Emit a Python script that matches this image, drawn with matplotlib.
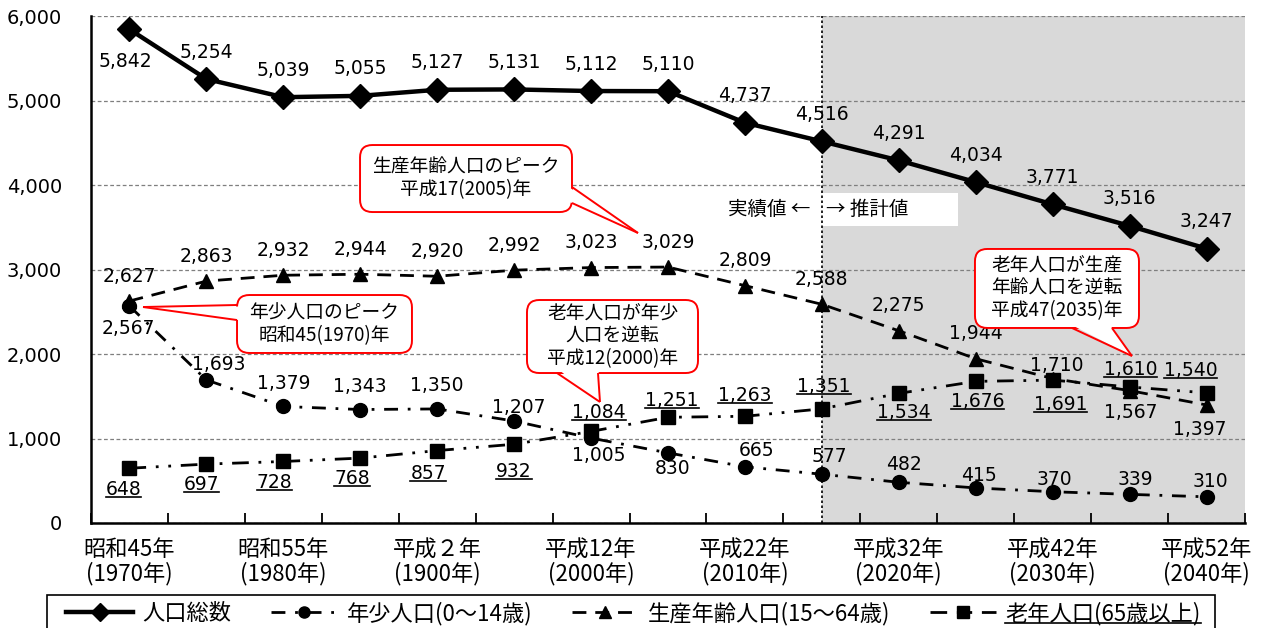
import matplotlib
matplotlib.use("Agg")
import matplotlib.pyplot as plt
from matplotlib.lines import Line2D
from matplotlib.patches import FancyBboxPatch, Polygon, Rectangle
from matplotlib.transforms import IdentityTransform

JP = ['Noto Sans CJK JP', 'DejaVu Sans']
NUM = ['DejaVu Sans']

# population by age group, 1970-2040 (actual up to 2015 col, projection after)
years = [1970, 1975, 1980, 1985, 1990, 1995, 2000, 2005, 2010, 2015, 2020, 2025, 2030, 2035, 2040]
total = [5842, 5254, 5039, 5055, 5127, 5131, 5112, 5110, 4737, 4516, 4291, 4034, 3771, 3516, 3247]
young = [2567, 1693, 1379, 1343, 1350, 1207, 1005, 830, 665, 577, 482, 415, 370, 339, 310]
working = [2627, 2863, 2932, 2944, 2920, 2992, 3023, 3029, 2809, 2588, 2275, 1944, 1710, 1567, 1397]
elderly = [648, 697, 728, 768, 857, 932, 1084, 1251, 1263, 1351, 1534, 1676, 1691, 1610, 1540]

tick_labels = ['昭和45年\n(1970年)', '昭和55年\n(1980年)', '平成２年\n(1900年)', '平成12年\n(2000年)',
               '平成22年\n(2010年)', '平成32年\n(2020年)', '平成42年\n(2030年)', '平成52年\n(2040年)']
legend_labels = ['人口総数', '年少人口(0～14歳)', '生産年齢人口(15～64歳)', '老年人口(65歳以上)']

# label offsets in pixels (dx, dy)
total_off = [(-4, -32)] + [(0, 27)] * 14
young_off = [(-1, -22), (12, 15), (0, 23), (0, 23), (0, 23), (5, 14), (8, -17), (5, -16),
             (12, 16), (8, 18), (5, 18), (3, 12), (2, 12), (6, 15), (4, 15)]
working_off = [(0, 25)] * 12 + [(4, 13), (1, -22), (-7, -25)]
elderly_off = [(-6, -21), (-5, -20), (-9, -21), (-8, -20), (-9, -23), (0, -27), (8, 19), (4, 17),
               (0, 21), (2, 22), (5, -19), (2, -20), (8, -24), (1, 17), (-16, 22)]

# callouts: text, box (x0, y0, x1, y1), tail base points, tail tip  (data units)
callouts = [
    ('生産年齢人口のピーク\n平成17(2005)年', (2.997, 3680, 5.752, 4473),
     [(5.752, 3976), (5.752, 3787)], (6.61, 3432)),
    ('年少人口のピーク\n昭和45(1970)年', (1.398, 2012, 3.672, 2698),
     [(1.398, 2580), (1.398, 2402)], (0.176, 2556)),
    ('老年人口が年少\n人口を逆転\n平成12(2000)年', (5.167, 1775, 7.39, 2639),
     [(5.557, 1775), (6.09, 1775)], (6.116, 1432)),
    ('老年人口が生産\n年齢人口を逆転\n平成47(2035)年', (10.99, 2308, 13.122, 3243),
     [(12.251, 2308), (12.771, 2308)], (13.031, 1976)),
]

x = list(range(len(years)))

fig = plt.figure(figsize=(12.66, 6.28), dpi=100)
ax = fig.add_axes([91 / 1266, 1 - 523 / 628, (1245 - 91) / 1266, (523 - 16) / 628])

ax.axvspan(9, 14.5, color='#d9d9d9', zorder=0, lw=0)
ax.axvline(9, color='black', ls=(0, (1.5, 1.5)), lw=1.2, zorder=2)

l1, = ax.plot(x, total, color='black', lw=3.2, marker='D', ms=12, zorder=5)
l2, = ax.plot(x, young, color='black', lw=2, ls=(0, (5, 3.5, 1, 3.5)), marker='o', ms=10, zorder=5)
l3, = ax.plot(x, working, color='black', lw=2, ls=(0, (5, 3.2)), marker='^', ms=10, zorder=5)
l4, = ax.plot(x, elderly, color='black', lw=2, ls=(0, (6, 3.5, 1, 3.5, 1, 3.5)), marker='s', ms=10, zorder=5)

underlined = []
for vals, offs, ul in [(total, total_off, False), (young, young_off, False),
                       (working, working_off, False), (elderly, elderly_off, True)]:
    for i, v in enumerate(vals):
        t = ax.annotate(f"{v:,}", (i, v), xytext=offs[i], textcoords='offset pixels',
                        ha='center', va='center', fontsize=13.5, family=NUM, zorder=6)
        if ul:
            underlined.append(t)

ax.set_xlim(-0.5, 14.5)
ax.set_ylim(0, 6000)
ax.set_yticks(range(0, 6001, 1000))
ax.set_yticklabels([f"{v:,}" for v in range(0, 6001, 1000)], family=NUM, fontsize=14)
ax.tick_params(axis='y', length=0, pad=21)
ax.yaxis.grid(True, color='#7f7f7f', ls=(0, (3, 2)), lw=0.9)
ax.set_axisbelow(True)

ax.set_xticks([i - 0.5 for i in range(16)])
ax.set_xticklabels([])
ax.tick_params(axis='x', which='major', direction='in', length=7, width=1.3)
ax.set_xticks(range(0, 15, 2), tick_labels, minor=True)
ax.tick_params(axis='x', which='minor', length=0, pad=11)
for lab in ax.get_xticklabels(minor=True):
    lab.set_family(JP)
    lab.set_fontsize(16)
    lab.set_linespacing(1.05)

for s in ['top', 'right']:
    ax.spines[s].set_visible(False)
ax.spines['left'].set_linewidth(1.8)
ax.spines['bottom'].set_linewidth(1.8)

# 実績値 / 推計値
ax.add_patch(Rectangle((7.416, 3515), 3.354, 390, fc='white', ec='none', zorder=1.5))
ax.text(8.846, 3716, '実績値 ←', ha='right', va='center', fontsize=14, family=JP, zorder=3)
ax.text(9.054, 3716, '→ 推計値', ha='left', va='center', fontsize=14, family=JP, zorder=3)

# callout boxes with tails
aspect = (1 / 0.0845) / (1 / 76.933)
for txt, (x0, y0, x1, y1), base, tip in callouts:
    ax.add_patch(FancyBboxPatch((x0, y0), x1 - x0, y1 - y0,
                                boxstyle='round,pad=0,rounding_size=0.16', mutation_aspect=aspect,
                                fc='white', ec='red', lw=1.4, zorder=7))
    # push the base slightly into the box so the border under the tail is hidden
    cx, cy = (x0 + x1) / 2, (y0 + y1) / 2
    inner = [(bx + (cx - bx) * 0.04, by + (cy - by) * 0.08) for bx, by in base]
    ax.add_patch(Polygon(inner + [tip], closed=True, fc='white', ec='none', zorder=7.1))
    for bx, by in base:
        ax.plot([bx, tip[0]], [by, tip[1]], color='red', lw=1.4, zorder=7.2, solid_capstyle='butt')
    ax.text(cx, cy, txt, ha='center', va='center', fontsize=13.5, family=JP,
            linespacing=1.1, zorder=7.3)

# legend: items inset, frame drawn separately (runs off the bottom edge)
leg = fig.legend([l1, l2, l3, l4], legend_labels, loc='upper left', ncol=4, mode='expand',
                 bbox_to_anchor=(62 / 1266, 1 - 597 / 628 - 0.1, (1205 - 62) / 1266, 0.1),
                 prop={'family': JP, 'size': 16}, frameon=False, markerscale=0.8,
                 handlelength=3.0, handletextpad=0.4, borderaxespad=0, borderpad=0.2)
fig.add_artist(Rectangle((47 / 1266, -0.05), (1215 - 47) / 1266, 1 - 595 / 628 + 0.05,
                         transform=fig.transFigure, fill=False, ec='black', lw=1.2))

fig.canvas.draw()
r = fig.canvas.get_renderer()
underlined.append(leg.get_texts()[3])
for t in underlined:
    bb = t.get_window_extent(r)
    y = bb.y0 + 2
    fig.add_artist(Line2D([bb.x0, bb.x1], [y, y], transform=IdentityTransform(),
                          color='black', lw=1.2, zorder=8))

fig.savefig('out.png', dpi=100)
